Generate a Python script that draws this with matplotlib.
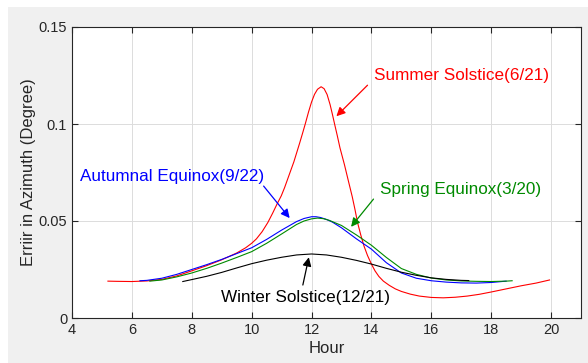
import matplotlib
matplotlib.use("Agg")
import matplotlib.pyplot as plt
from matplotlib.patches import Rectangle

plt.rcParams['font.family'] = ['Liberation Sans', 'DejaVu Sans']

# Summer Solstice (6/21)
summer_hour = [5.2, 5.5, 6.0, 6.5, 7.0, 7.5, 8.0, 8.5, 9.0, 9.5, 9.8, 10.0, 10.16, 10.35,
               10.54, 10.7, 10.85, 10.99, 11.1, 11.2, 11.3, 11.41, 11.5, 11.6, 11.7,
               11.79, 11.9, 12.0, 12.1, 12.2, 12.32, 12.42, 12.52, 12.62, 12.7, 12.77,
               12.86, 12.95, 13.1, 13.23, 13.36, 13.45, 13.54, 13.65, 13.75, 13.87, 14.0,
               14.12, 14.25, 14.4, 14.6, 14.8, 15.0, 15.3, 15.6, 16.0, 16.4, 16.8, 17.2,
               17.6, 18.0, 18.5, 19.0, 19.5, 19.95]
summer_err = [0.0190, 0.0189, 0.0188, 0.0191, 0.0199, 0.0217, 0.0243, 0.0270, 0.0300,
              0.0335, 0.0362, 0.0385, 0.0408, 0.0445, 0.0492, 0.0540, 0.0588, 0.0630,
              0.0672, 0.0715, 0.0758, 0.0805, 0.0850, 0.0900, 0.0952, 0.1000, 0.1062,
              0.1113, 0.1153, 0.1179, 0.1192, 0.1182, 0.1152, 0.1100, 0.1048, 0.1000,
              0.0940, 0.0877, 0.0790, 0.0707, 0.0625, 0.0560, 0.0490, 0.0425, 0.0372,
              0.0322, 0.0278, 0.0243, 0.0214, 0.0190, 0.0168, 0.0150, 0.0137, 0.0123,
              0.0113, 0.0106, 0.0104, 0.0107, 0.0113, 0.0122, 0.0134, 0.0150, 0.0166,
              0.0180, 0.0196]

# Autumnal Equinox (9/22)
autumn_hour = [6.27, 6.5, 7.0, 7.5, 8.0, 8.5, 9.0, 9.5, 10.0, 10.5, 11.0, 11.5, 11.75,
               12.0, 12.15, 12.3, 12.5, 12.7, 13.0, 13.5, 14.0, 14.5, 15.0, 15.5, 16.0,
               16.5, 17.0, 17.5, 18.0, 18.5]
autumn_err = [0.0192, 0.0194, 0.0205, 0.0225, 0.0250, 0.0275, 0.0302, 0.0332, 0.0362,
              0.0405, 0.0453, 0.0497, 0.0513, 0.0522, 0.0522, 0.0518, 0.0508, 0.0494,
              0.0465, 0.0408, 0.0355, 0.0285, 0.0232, 0.0205, 0.0192, 0.0185, 0.0181,
              0.0180, 0.0183, 0.0190]

# Spring Equinox (3/20)
spring_hour = [6.6, 7.0, 7.5, 8.0, 8.5, 9.0, 9.5, 10.0, 10.5, 11.0, 11.5, 11.75, 12.0,
               12.2, 12.4, 12.6, 13.0, 13.5, 14.0, 14.5, 15.0, 15.5, 16.0, 16.5, 17.0,
               17.5, 18.0, 18.5, 18.7]
spring_err = [0.0190, 0.0196, 0.0212, 0.0232, 0.0256, 0.0283, 0.0312, 0.0342, 0.0385,
              0.0433, 0.0482, 0.0500, 0.0511, 0.0515, 0.0512, 0.0503, 0.0477, 0.0428,
              0.0375, 0.0312, 0.0255, 0.0225, 0.0206, 0.0196, 0.0191, 0.0189, 0.0188,
              0.0190, 0.0192]

# Winter Solstice (12/21)
winter_hour = [7.7, 8.0, 8.5, 9.0, 9.5, 10.0, 10.5, 11.0, 11.5, 12.0, 12.5, 13.0, 13.5,
               14.0, 14.5, 15.0, 15.5, 16.0, 16.5, 17.0, 17.25]
winter_err = [0.0188, 0.0198, 0.0215, 0.0235, 0.0258, 0.0280, 0.0298, 0.0313, 0.0325,
              0.0330, 0.0325, 0.0313, 0.0297, 0.0278, 0.0256, 0.0236, 0.0220, 0.0207,
              0.0199, 0.0194, 0.0193]

x_ticks = [4, 6, 8, 10, 12, 14, 16, 18, 20]
y_ticks = [0, 0.05, 0.1, 0.15]
y_tick_labels = ['0', '0.05', '0.1', '0.15']

red = '#ff0000'
blue = '#0000ff'
green = '#008a00'

fig = plt.figure(figsize=(5.88, 3.63), dpi=100)
fig.patch.set_facecolor('white')
fig.patches.append(Rectangle((8 / 588, 0), 1, (363 - 7) / 363, transform=fig.transFigure,
                             facecolor='#f0f0f0', edgecolor='none', zorder=-10))
ax = fig.add_axes([72 / 588, 45 / 363, (581 - 72) / 588, (318 - 27) / 363])
ax.set_facecolor('white')

ax.plot(summer_hour, summer_err, color=red, lw=0.8)
ax.plot(autumn_hour, autumn_err, color=blue, lw=0.8)
ax.plot(spring_hour, spring_err, color=green, lw=0.8)
ax.plot(winter_hour, winter_err, color='black', lw=0.8)

ax.set_xlim(4, 21)
ax.set_ylim(0, 0.15)
ax.set_xticks(x_ticks)
ax.set_yticks(y_ticks)
ax.set_yticklabels(y_tick_labels)
ax.grid(True, color='#dcdcdc', lw=0.7)
ax.set_axisbelow(True)
ax.tick_params(direction='in', top=True, right=True, length=4, width=0.8,
               colors='#262626', labelsize=10.5)
for s in ax.spines.values():
    s.set_color('#262626')
    s.set_linewidth(0.8)

ax.set_xlabel('Hour', fontsize=12, color='#262626', labelpad=3)
ax.set_ylabel('Erriir in Azimuth (Degree)', fontsize=12, color='#262626', labelpad=2)

def note(text, xy, xytext, color, tx, ty):
    ax.annotate('', xy=xy, xytext=xytext,
                arrowprops=dict(arrowstyle='-|>', color=color, lw=0.9,
                                mutation_scale=13, shrinkA=0, shrinkB=0))
    ax.text(tx, ty, text, color=color, fontsize=12.3, va='center', ha='left')

note('Summer Solstice(6/21)', (12.83, 0.104), (13.87, 0.120), red, 14.07, 0.1252)
note('Autumnal Equinox(9/22)', (11.27, 0.0515), (10.4, 0.068), blue, 4.27, 0.0731)
note('Spring Equinox(3/20)', (13.32, 0.047), (14.07, 0.0613), green, 14.3, 0.066)
note('Winter Solstice(12/21)', (11.91, 0.0313), (11.71, 0.017), 'black', 8.99, 0.0108)

fig.savefig('out.png', dpi=100, facecolor=fig.get_facecolor())
